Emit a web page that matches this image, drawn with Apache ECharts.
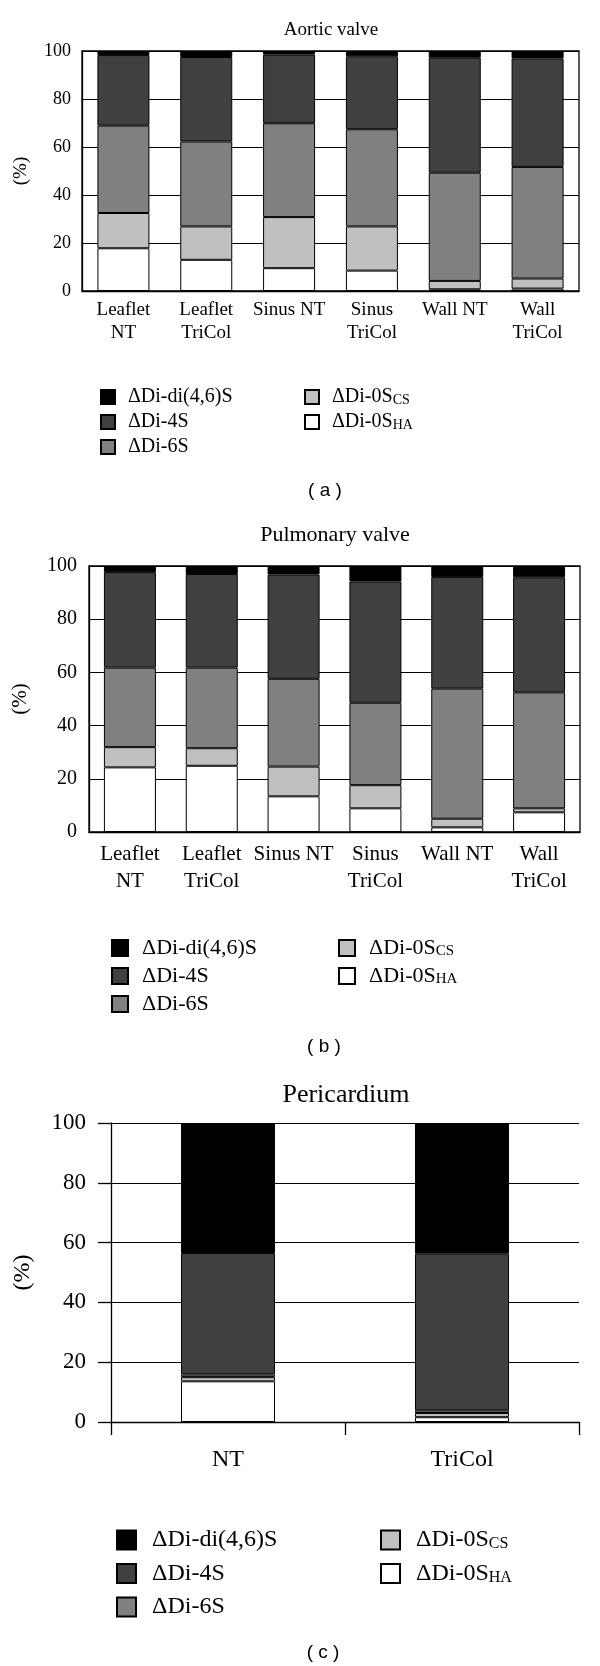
<!DOCTYPE html>
<html>
<head>
<meta charset="utf-8">
<script src="https://cdn.jsdelivr.net/npm/echarts@6/dist/echarts.min.js"></script>
<style>
  html, body { margin: 0; padding: 0; background: #fff; }
  #chart { width: 600px; height: 1666px; }
</style>
</head>
<body>
<div id="chart"></div>
<script>
// ---------- data ----------
const seriesNames = ['ΔDi-0S_HA', 'ΔDi-0S_CS', 'ΔDi-6S', 'ΔDi-4S', 'ΔDi-di(4,6)S']; // bottom -> top
const seriesColors = ['#ffffff', '#c0c0c0', '#808080', '#404040', '#000000'];

const aorticCategories = ['Leaflet\nNT', 'Leaflet\nTriCol', 'Sinus NT', 'Sinus\nTriCol', 'Wall NT', 'Wall\nTriCol'];
const aorticHA   = [17.8, 13.0, 9.5, 8.5, 0.7, 1.0];
const aorticCS   = [14.7, 13.9, 21.3, 18.4, 3.5, 4.2];
const aortic6S   = [36.4, 35.4, 39.1, 40.5, 45.1, 46.5];
const aortic4S   = [29.4, 35.2, 28.6, 30.4, 47.9, 45.2];
const aorticDi   = [1.7, 2.5, 1.5, 2.2, 2.8, 3.1];

const pulmCategories = ['Leaflet\nNT', 'Leaflet\nTriCol', 'Sinus NT', 'Sinus\nTriCol', 'Wall NT', 'Wall\nTriCol'];
const pulmHA = [24.3, 24.9, 13.4, 8.9, 1.75, 7.4];
const pulmCS = [7.6, 6.6, 11.2, 8.7, 3.25, 1.5];
const pulm6S = [29.9, 30.3, 33.0, 31.0, 48.9, 43.6];
const pulm4S = [35.9, 35.2, 39.2, 45.6, 42.0, 43.25];
const pulmDi = [2.3, 3.0, 3.2, 5.8, 4.1, 4.25];

const periCategories = ['NT', 'TriCol'];
const periHA = [13.6, 1.6];
const periCS = [1.4, 1.4];
const peri6S = [0.9, 0.9];
const peri4S = [40.6, 52.4];
const periDi = [43.5, 43.7];

const chartTitles = ['Aortic valve', 'Pulmonary valve', 'Pericardium'];
const panelLabels = ['( a )', '( b )', '( c )'];
const yTicksMin = 0, yTicksMax = 100, yTicksStep = 20;

// ---------- layout ----------
const serif = 'Liberation Serif';
const sans = 'Liberation Sans';
const panels = [
  { cats: aorticCategories, data: [aorticHA, aorticCS, aortic6S, aortic4S, aorticDi],
    grid: { left: 82, right: 21, top: 51, height: 240 }, box: true, barWidth: 52,
    tickFont: 18, catFont: 19, catLH: 23, catMargin: 8, yMargin: 11, nameFont: 19, nameGap: 51,
    title: { x: 331, y: 30, size: 19 }, panel: { x: 325, y: 491 },
    legend: { top: 382, left1: 95, left2: 299, icon: 14, font: 20, lh: 20, gap: 5, pad: 8 } },
  { cats: pulmCategories, data: [pulmHA, pulmCS, pulm6S, pulm4S, pulmDi],
    grid: { left: 89, right: 20, top: 566, height: 266 }, box: true, barWidth: 52,
    tickFont: 20, catFont: 21, catLH: 27, catMargin: 9, yMargin: 12, nameFont: 21, nameGap: 58,
    title: { x: 335, y: 535, size: 22 }, panel: { x: 324, y: 1047 },
    legend: { top: 932, left1: 106, left2: 333, icon: 16, font: 22, lh: 22, gap: 6, pad: 9 } },
  { cats: periCategories, data: [periHA, periCS, peri6S, peri4S, periDi],
    grid: { left: 111, right: 21, top: 1123, height: 299 }, box: false, barWidth: 94,
    tickFont: 23, catFont: 24, catLH: 26, catMargin: 25, yMargin: 25, nameFont: 24, nameGap: 76,
    title: { x: 346, y: 1095, size: 26 }, panel: { x: 323, y: 1653 },
    legend: { top: 1523, left1: 111, left2: 375, icon: 19, font: 24, lh: 24, gap: 9.5, pad: 11 } }
];

const grids = [], xAxes = [], yAxes = [], series = [], legends = [], graphics = [];

function legendFormatter(name) {
  const i = name.indexOf('_');
  if (i < 0) return '{n|' + name + '}';
  return '{n|' + name.slice(0, i) + '}{sub|' + name.slice(i + 1) + '}';
}

panels.forEach((p, idx) => {
  grids.push(Object.assign({
    show: p.box, borderColor: '#000', borderWidth: 1.3, backgroundColor: 'transparent', containLabel: false
  }, p.grid));
  xAxes.push({
    type: 'category', gridIndex: idx, data: p.cats,
    axisLine: { show: true, lineStyle: { color: '#000', width: 1.3 } },
    axisTick: { show: !p.box, length: 13, lineStyle: { color: '#000', width: 1.3 } },
    axisLabel: { color: '#000', fontFamily: serif, fontSize: p.catFont, lineHeight: p.catLH, margin: p.catMargin, interval: 0 },
    splitLine: { show: false }
  });
  yAxes.push({
    type: 'value', gridIndex: idx, min: yTicksMin, max: yTicksMax, interval: yTicksStep,
    name: '(%)', nameLocation: 'middle', nameGap: p.nameGap,
    nameTextStyle: { color: '#000', fontFamily: serif, fontSize: p.nameFont },
    axisLine: { show: true, lineStyle: { color: '#000', width: 1.3 } },
    axisTick: { show: !p.box, length: 13, lineStyle: { color: '#000', width: 1.3 } },
    axisLabel: { color: '#000', fontFamily: serif, fontSize: p.tickFont, margin: p.yMargin },
    splitLine: { show: true, lineStyle: { color: '#000', width: 1.2 } }
  });
  seriesNames.forEach((nm, k) => {
    series.push({
      name: nm, type: 'bar', stack: 'panel' + idx, xAxisIndex: idx, yAxisIndex: idx,
      data: p.data[k], barWidth: p.barWidth,
      itemStyle: { color: seriesColors[k], borderColor: '#000', borderWidth: 1 },
      emphasis: { disabled: true }
    });
  });
  const L = p.legend;
  const legendBase = {
    orient: 'vertical', top: L.top, itemWidth: L.icon, itemHeight: L.icon, itemGap: L.gap,
    icon: 'rect', selectedMode: false, formatter: legendFormatter,
    textStyle: {
      color: '#000', fontFamily: serif, fontSize: L.font, lineHeight: L.lh,
      rich: {
        n: { fontFamily: serif, fontSize: L.font, lineHeight: L.lh, color: '#000', padding: [0, 0, 0, L.pad] },
        sub: { fontFamily: serif, fontSize: Math.round(L.font * 0.68), lineHeight: Math.round(L.lh * 0.55), verticalAlign: 'bottom', color: '#000' }
      }
    }
  };
  legends.push(Object.assign({}, legendBase, { left: L.left1, data: ['ΔDi-di(4,6)S', 'ΔDi-4S', 'ΔDi-6S'] }));
  legends.push(Object.assign({}, legendBase, { left: L.left2, data: ['ΔDi-0S_CS', 'ΔDi-0S_HA'] }));

  graphics.push({
    type: 'text', x: p.title.x, y: p.title.y,
    style: { text: chartTitles[idx], fill: '#000', font: p.title.size + 'px "' + serif + '"', textAlign: 'center', textVerticalAlign: 'middle' }
  });
  graphics.push({
    type: 'text', x: p.panel.x, y: p.panel.y,
    style: { text: panelLabels[idx], fill: '#000', font: '19px "' + sans + '"', textAlign: 'center', textVerticalAlign: 'middle' }
  });
});

const chart = echarts.init(document.getElementById('chart'), null, { renderer: 'canvas' });
chart.setOption({
  animation: false,
  backgroundColor: '#ffffff',
  grid: grids, xAxis: xAxes, yAxis: yAxes, series: series, legend: legends,
  graphic: graphics
});
</script>
</body>
</html>
